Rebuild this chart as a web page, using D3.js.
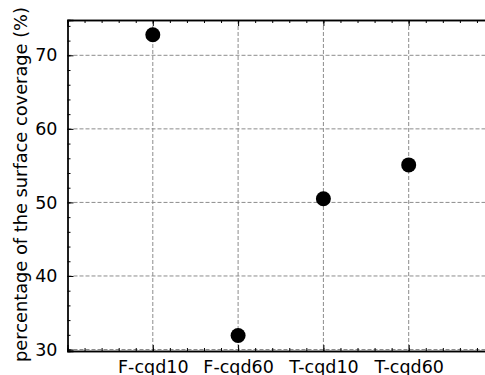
<!DOCTYPE html>
<html>
<head>
<meta charset="utf-8">
<script src="https://cdn.jsdelivr.net/npm/d3@7"></script>
<style>
  body { margin: 0; background: white; }
  svg { display: block; font-family: "DejaVu Sans", sans-serif; }
</style>
</head>
<body>
<div id="chart"></div>
<script>
var categories = ["F-cqd10", "F-cqd60", "T-cqd10", "T-cqd60"];
var positions = [1, 2, 3, 4];
var coverage = [72.8, 31.9, 50.5, 55.1];
var yTicks = [30, 40, 50, 60, 70];

var width = 485, height = 375;
var mLeft = 67.5, mTop = 20, mBottom = 351;

var x = d3.scaleLinear().domain([0, 5]).range([mLeft, mLeft + 5 * 85.3]);
var y = d3.scaleLinear().domain([29.8, 74.8]).range([mBottom, mTop]);

var svg = d3.select("#chart").append("svg")
    .attr("width", width)
    .attr("height", height);

// grid
svg.append("g").selectAll("line")
    .data(yTicks).enter().append("line")
    .attr("x1", mLeft).attr("x2", x(5))
    .attr("y1", function(d) { return y(d); })
    .attr("y2", function(d) { return y(d); })
    .attr("stroke", "#8c8c8c").attr("stroke-width", 1)
    .attr("stroke-dasharray", "4,2");

svg.append("g").selectAll("line")
    .data(positions).enter().append("line")
    .attr("x1", function(d) { return x(d); })
    .attr("x2", function(d) { return x(d); })
    .attr("y1", mTop).attr("y2", mBottom)
    .attr("stroke", "#8c8c8c").attr("stroke-width", 1)
    .attr("stroke-dasharray", "4,2");

// axes, ticks inward
var xMinor = d3.range(0, 5.01, 0.2);
var yMinor = d3.range(30, 75, 2);

var xAxisB = d3.axisBottom(x).tickValues(positions)
    .tickFormat(function(d, i) { return categories[i]; })
    .tickSize(-6).tickPadding(10);
var gB = svg.append("g").attr("transform", "translate(0," + mBottom + ")").call(xAxisB);
gB.append("g").call(d3.axisBottom(x).tickValues(xMinor).tickSize(-3).tickFormat(""));

var gT = svg.append("g").attr("transform", "translate(0," + mTop + ")")
    .call(d3.axisTop(x).tickValues(positions).tickSize(-6).tickFormat(""));
gT.append("g").call(d3.axisTop(x).tickValues(xMinor).tickSize(-3).tickFormat(""));

var gL = svg.append("g").attr("transform", "translate(" + mLeft + ",0)")
    .call(d3.axisLeft(y).tickValues(yTicks).tickSize(-6).tickPadding(10));
gL.append("g").call(d3.axisLeft(y).tickValues(yMinor).tickSize(-3).tickFormat(""));

[gB, gT, gL].forEach(function(g) {
    g.selectAll("path.domain").attr("stroke", "#000").attr("stroke-width", 1.3);
    g.selectAll("line").attr("stroke", "#000");
    g.selectAll("text").attr("font-size", "17.5px").attr("fill", "#000")
        .attr("font-family", "DejaVu Sans");
});

// points
svg.append("g").selectAll("circle")
    .data(coverage).enter().append("circle")
    .attr("cx", function(d, i) { return x(positions[i]); })
    .attr("cy", function(d) { return y(d); })
    .attr("r", 7.5)
    .attr("fill", "#000");

// y label
svg.append("text")
    .attr("transform", "translate(27," + ((mTop + mBottom) / 2 - 1) + ") rotate(-90)")
    .attr("text-anchor", "middle")
    .attr("font-size", "17.8px")
    .attr("fill", "#000")
    .text("percentage of the surface coverage (%)");
</script>
</body>
</html>
